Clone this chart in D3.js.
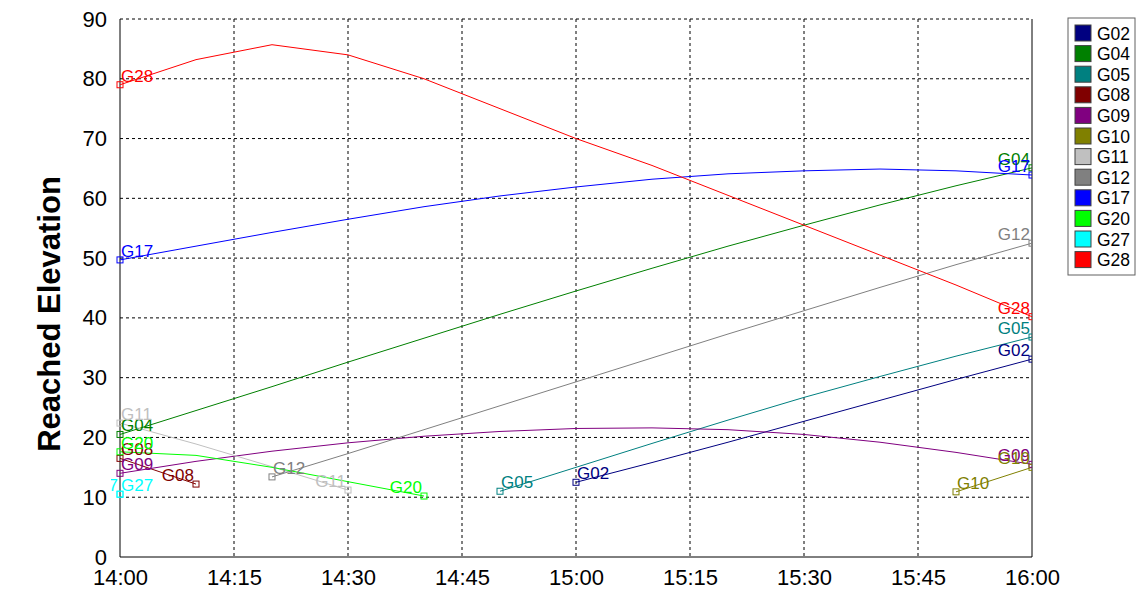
<!DOCTYPE html>
<html>
<head>
<meta charset="utf-8">
<title>Reached Elevation</title>
<script src="https://d3js.org/d3.v7.min.js"></script>
<style>
  body { margin: 0; background: #fff; }
  text { font-family: "Liberation Sans", Arial, sans-serif; }
  .grid line { stroke: #000; stroke-dasharray: 3,3; stroke-width: 1; }
</style>
</head>
<body>
<script>
// minutes after 14:00, elevation in degrees
var G02 = [[60, 12.5], [70, 15.8], [80, 19.2], [90, 22.7], [100, 26.2], [110, 29.7], [120, 33.1]];
var G04 = [[0, 20.5], [10, 24.5], [20, 28.5], [30, 32.6], [40, 36.6], [50, 40.6], [60, 44.5], [70, 48.3], [80, 52.0], [90, 55.5], [100, 58.9], [110, 62.1], [120, 65.1]];
var G05 = [[50, 11.0], [60, 15.0], [70, 19.0], [80, 22.9], [90, 26.7], [100, 30.2], [110, 33.6], [120, 36.8]];
var G08 = [[0, 16.5], [10, 12.2]];
var G09 = [[0, 14.0], [10, 16.0], [20, 17.7], [30, 19.1], [40, 20.2], [50, 21.0], [60, 21.5], [70, 21.6], [80, 21.3], [90, 20.5], [100, 19.2], [110, 17.5], [120, 15.5]];
var G10 = [[110, 10.9], [120, 15.0]];
var G11 = [[0, 22.4], [10, 18.9], [20, 15.1], [30, 11.2]];
var G12 = [[20, 13.4], [30, 17.3], [40, 21.3], [50, 25.3], [60, 29.3], [70, 33.3], [80, 37.3], [90, 41.2], [100, 45.1], [110, 48.9], [120, 52.5]];
var G17 = [[0, 49.7], [10, 52.0], [20, 54.3], [30, 56.5], [40, 58.6], [50, 60.4], [60, 61.9], [70, 63.2], [80, 64.1], [90, 64.6], [100, 64.9], [110, 64.6], [120, 63.9]];
var G20 = [[0, 17.6], [10, 17.0], [20, 15.0], [30, 12.6], [40, 10.2]];
var G27 = [[0, 10.5]];
var G28 = [[0, 79.0], [10, 83.2], [20, 85.7], [30, 84.0], [40, 80.0], [50, 75.0], [60, 70.0], [70, 65.5], [80, 60.5], [90, 55.5], [100, 50.5], [110, 45.5], [120, 40.2]];

var satNames = ["G02", "G04", "G05", "G08", "G09", "G10", "G11", "G12", "G17", "G20", "G27", "G28"];
var satData = [G02, G04, G05, G08, G09, G10, G11, G12, G17, G20, G27, G28];
var yTicks = [0, 10, 20, 30, 40, 50, 60, 70, 80, 90];

var W = 1136, H = 590;
var margin = {top: 19, right: 104, bottom: 33, left: 120},
    width = W - margin.left - margin.right,
    height = H - margin.top - margin.bottom;

var base = new Date(2000, 0, 1, 14, 0);
function t(m) { return new Date(base.getTime() + m * 60000); }

var x = d3.scaleTime().domain([t(0), t(120)]).range([0, width]);
var y = d3.scaleLinear().domain([0, 90]).range([height, 0]);

var color = d3.scaleOrdinal()
    .domain(satNames)
    .range(["#000080", "#008000", "#008080", "#800000", "#800080", "#808000",
            "#c0c0c0", "#808080", "#0000ff", "#00ff00", "#00ffff", "#ff0000"]);

var svg = d3.select("body").append("svg")
    .attr("width", W)
    .attr("height", H);

var g = svg.append("g")
    .attr("transform", "translate(" + margin.left + "," + margin.top + ")");

// grid
var xGridTicks = d3.range(15, 120, 15).map(t);
g.append("g").attr("class", "grid")
  .selectAll("line").data(xGridTicks).enter().append("line")
    .attr("x1", function(d) { return x(d); })
    .attr("x2", function(d) { return x(d); })
    .attr("y1", 0).attr("y2", height);
g.append("g").attr("class", "grid")
  .selectAll("line").data(yTicks.slice(1)).enter().append("line")
    .attr("x1", 0).attr("x2", width)
    .attr("y1", function(d) { return y(d); })
    .attr("y2", function(d) { return y(d); });

// frame
g.append("line").attr("x1", 0).attr("x2", 0).attr("y1", 0).attr("y2", height).attr("stroke", "#000");
g.append("line").attr("x1", 0).attr("x2", width).attr("y1", height).attr("y2", height).attr("stroke", "#000");
g.append("line").attr("x1", width).attr("x2", width).attr("y1", 0).attr("y2", height).attr("stroke", "#000");

// axes
var xAxis = d3.axisBottom(x)
    .tickValues(d3.range(0, 121, 15).map(t))
    .tickFormat(d3.timeFormat("%H:%M"))
    .tickSize(0).tickPadding(12);
g.append("g")
    .attr("transform", "translate(0," + height + ")")
    .call(xAxis)
    .call(function(s) { s.select(".domain").remove(); })
    .selectAll("text")
    .attr("font-size", 22).attr("fill", "#000")
    .attr("font-family", "Liberation Sans, Arial, sans-serif");

var yAxis = d3.axisLeft(y).tickValues(yTicks).tickSize(0).tickPadding(13);
g.append("g")
    .call(yAxis)
    .call(function(s) { s.select(".domain").remove(); })
    .selectAll("text")
    .attr("font-size", 22).attr("fill", "#000")
    .attr("font-family", "Liberation Sans, Arial, sans-serif");

svg.append("text")
    .attr("transform", "translate(60,314) rotate(-90)")
    .attr("text-anchor", "middle")
    .attr("font-size", 31)
    .attr("font-weight", "bold")
    .text("Reached Elevation");

// clip for labels
svg.append("clipPath").attr("id", "plotclip")
  .append("rect").attr("x", -9).attr("y", -10).attr("width", width + 9).attr("height", height + 10);

var line = d3.line()
    .x(function(d) { return x(t(d[0])); })
    .y(function(d) { return y(d[1]); });

var series = satNames.map(function(n, i) { return {name: n, pts: satData[i]}; });

var sg = g.append("g").attr("clip-path", "url(#plotclip)");

sg.selectAll("path.sat").data(series).enter().append("path")
    .attr("class", "sat")
    .attr("d", function(d) { return line(d.pts); })
    .attr("fill", "none")
    .attr("stroke", function(d) { return color(d.name); })
    .attr("stroke-width", 1);

var ends = [];
series.forEach(function(s) {
  ends.push({name: s.name, p: s.pts[0], anchor: "start"});
  ends.push({name: s.name, p: s.pts[s.pts.length - 1], anchor: "end"});
});

sg.selectAll("rect.mk").data(ends).enter().append("rect")
    .attr("class", "mk")
    .attr("x", function(d) { return x(t(d.p[0])) - 3; })
    .attr("y", function(d) { return y(d.p[1]) - 3; })
    .attr("width", 6).attr("height", 6)
    .attr("fill", "none")
    .attr("stroke", function(d) { return color(d.name); });

sg.selectAll("text.lbl").data(ends).enter().append("text")
    .attr("class", "lbl")
    .attr("x", function(d) { return x(t(d.p[0])) + (d.anchor === "start" ? 1 : -2); })
    .attr("y", function(d) { return y(d.p[1]) - 3; })
    .attr("text-anchor", function(d) { return d.anchor; })
    .attr("font-size", 17)
    .attr("fill", function(d) { return color(d.name); })
    .text(function(d) { return d.name; });

// legend
var lg = svg.append("g").attr("transform", "translate(1068,18)");
lg.append("rect").attr("width", 67).attr("height", 257)
    .attr("fill", "#fff").attr("stroke", "#606060");
var item = lg.selectAll("g").data(satNames).enter().append("g")
    .attr("transform", function(d, i) { return "translate(7," + (7 + i * 20.6) + ")"; });
item.append("rect").attr("width", 16).attr("height", 16)
    .attr("fill", function(d) { return color(d); })
    .attr("stroke", "#404040");
item.append("text").attr("x", 22).attr("y", 14.5)
    .attr("font-size", 17.5).attr("fill", "#000")
    .text(function(d) { return d; });
</script>
</body>
</html>
